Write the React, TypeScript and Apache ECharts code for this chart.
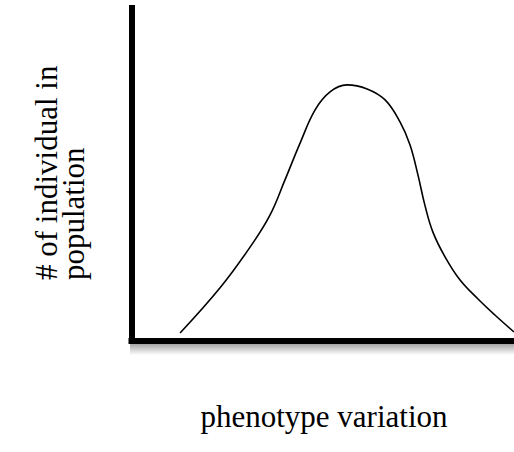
import React, { useEffect, useRef } from "react";
import * as echarts from "echarts";

const phenotypeX = [12.7, 23.1, 31.0, 36.2, 40.1, 44.1, 48.0, 51.9, 56.3, 61.6, 66.3, 70.2, 72.8, 74.9, 76.7, 78.8, 82.0, 85.9, 90.6, 95.0, 100];
const individuals = [2.4, 15.9, 28.2, 37.8, 48.3, 59.5, 69.4, 74.8, 76.9, 75.7, 72.4, 65.8, 58.9, 49.8, 40.8, 32.7, 25.2, 18.3, 12.6, 7.8, 2.7];
const xAxisTitle = "phenotype variation";
const yAxisTitleLines = ["# of individual in", "population"];

export default function App() {
  const ref = useRef<HTMLDivElement>(null);
  useEffect(() => {
    if (!ref.current) return;
    const chart = echarts.init(ref.current, null, { renderer: "svg" });
    const family = "'Liberation Serif', serif";
    chart.setOption({
      animation: false,
      backgroundColor: "#ffffff",
      grid: { left: 131.5, right: 0, top: 8, bottom: 111, containLabel: false },
      xAxis: {
        type: "value",
        min: 0,
        max: 100,
        axisLine: {
          show: true,
          onZero: false,
          lineStyle: { color: "#000", width: 6, cap: "square" },
        },
        axisTick: { show: false },
        axisLabel: { show: false },
        splitLine: { show: false },
      },
      yAxis: {
        type: "value",
        min: 0,
        max: 100,
        axisLine: { show: true, onZero: false, lineStyle: { color: "#000", width: 6, cap: "square" } },
        axisTick: { show: false },
        axisLabel: { show: false },
        splitLine: { show: false },
      },
      series: [
        {
          type: "line",
          data: phenotypeX.map((x, i) => [x, individuals[i]]),
          smooth: 0.4,
          symbol: "none",
          lineStyle: { color: "#000", width: 1.6 },
          clip: false,
        },
      ],
      graphic: [
        {
          type: "rect",
          z: -1,
          shape: { x: 130, y: 344, width: 384, height: 11 },
          style: {
            fill: new echarts.graphic.LinearGradient(0, 0, 0, 1, [
              { offset: 0, color: "rgba(0,0,0,0.35)" },
              { offset: 1, color: "rgba(0,0,0,0)" },
            ]),
          },
        },
        {
          type: "text",
          x: 324,
          y: 416,
          style: {
            text: xAxisTitle,
            fontFamily: family,
            fontSize: 31,
            fill: "#000",
            textAlign: "center",
            textVerticalAlign: "middle",
          },
        },
        ...yAxisTitleLines.map((t, i) => ({
          type: "text",
          x: 46 + i * 27,
          y: 280,
          rotation: Math.PI / 2,
          style: {
            text: t,
            fontFamily: family,
            fontSize: 31,
            fill: "#000",
            textAlign: "left",
            textVerticalAlign: "middle",
          },
        })),
      ],
    });
    return () => chart.dispose();
  }, []);
  return <div ref={ref} style={{ position: "fixed", left: 0, top: 0, width: 514, height: 452 }} />;
}
